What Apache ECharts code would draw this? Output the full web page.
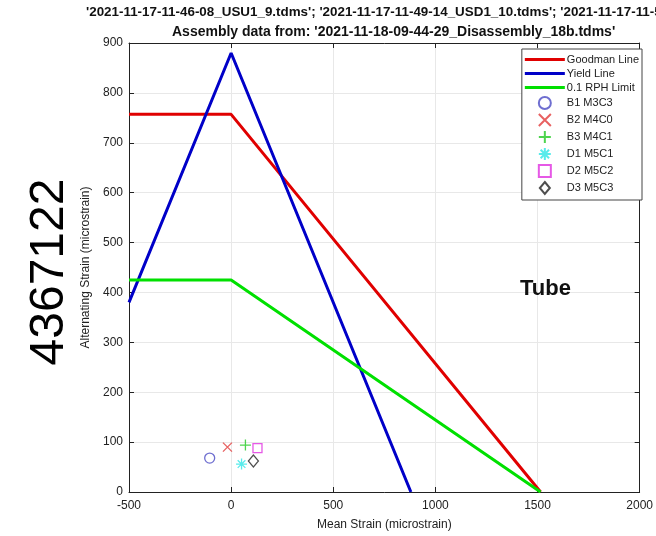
<!DOCTYPE html>
<html><head><meta charset="utf-8">
<script src="https://cdn.jsdelivr.net/npm/echarts@6/dist/echarts.min.js"></script>
<style>html,body{margin:0;padding:0;background:#fff}#c{width:656px;height:536px}</style>
</head><body><div id="c"></div>
<script>
const titleLine1 = "'2021-11-17-11-46-08_USU1_9.tdms'; '2021-11-17-11-49-14_USD1_10.tdms'; '2021-11-17-11-52-20_USU1_11.tdms'";
const titleLine2 = "Assembly data from: '2021-11-18-09-44-29_Disassembly_18b.tdms'";
const xTicks = [-500, 0, 500, 1000, 1500, 2000];
const yTicks = [0, 100, 200, 300, 400, 500, 600, 700, 800, 900];
const goodmanX = [-500, 0, 1515];
const goodmanY = [757, 757, 0];
const yieldX = [-500, 0, 880];
const yieldY = [380, 880, 0];
const rphX = [-500, 0, 1515];
const rphY = [425, 425, 0];
const pointNames = ['B1 M3C3', 'B2 M4C0', 'B3 M4C1', 'D1 M5C1', 'D2 M5C2', 'D3 M5C3'];
const pointX = [-105, -18, 70, 51, 129, 109];
const pointY = [68, 90, 94, 56, 88, 62];

const zip = (xs, ys) => xs.map((x, i) => [x, ys[i]]);
const symbols = [
  'circle',
  'path://M0,0L10,10M10,0L0,10',
  'path://M5,0L5,10M0,5L10,5',
  'path://M5,0L5,10M0,5L10,5M1.5,1.5L8.5,8.5M8.5,1.5L1.5,8.5',
  'path://M0,0L10,0L10,10L0,10Z',
  'path://M5,0L10,6L5,12L0,6Z'
];
const pColors = ['#4a4ac4', '#e23a3a', '#22c922', '#2ee6e6', '#e030e0', '#222222'];
const pSizes = [10, 9, 11, 11, 9, [10, 12]];
const lineColors = ['#e00000', '#0000c8', '#00e000'];
const ff = 'Liberation Sans, Arial, sans-serif';

const series = [
  {name: 'Goodman Line', type: 'line', data: zip(goodmanX, goodmanY), symbol: 'none', lineStyle: {color: lineColors[0], width: 3}, itemStyle: {color: lineColors[0]}},
  {name: 'Yield Line', type: 'line', data: zip(yieldX, yieldY), symbol: 'none', lineStyle: {color: lineColors[1], width: 3}, itemStyle: {color: lineColors[1]}},
  {name: '0.1 RPH Limit', type: 'line', data: zip(rphX, rphY), symbol: 'none', lineStyle: {color: lineColors[2], width: 3}, itemStyle: {color: lineColors[2]}}
];
pointNames.forEach((n, i) => {
  series.push({
    name: n, type: 'scatter', data: [[pointX[i], pointY[i]]],
    symbol: symbols[i], symbolSize: pSizes[i],
    itemStyle: {color: 'rgba(0,0,0,0)', borderColor: pColors[i], borderWidth: 1.3}
  });
});

const legendData = [];
for (let i = 0; i < 3; i++) {
  legendData.push({name: series[i].name, icon: 'path://M0,0L40,0L40,3L0,3Z', itemStyle: {color: lineColors[i], borderWidth: 0}});
}
pointNames.forEach((n, i) => {
  legendData.push({name: n, icon: symbols[i]});
});

const chart = echarts.init(document.getElementById('c'));
chart.setOption({
  animation: false,
  backgroundColor: '#fff',
  grid: {left: 129, right: 13, top: 43, bottom: 40},
  xAxis: [{
    type: 'value', min: xTicks[0], max: xTicks[xTicks.length - 1], interval: 500,
    name: 'Mean Strain (microstrain)', nameLocation: 'middle', nameGap: 27,
    nameTextStyle: {color: '#222', fontSize: 12, fontFamily: ff},
    axisLine: {onZero: false, lineStyle: {color: '#222', width: 1}},
    axisTick: {inside: true, length: 5, lineStyle: {color: '#222'}},
    axisLabel: {color: '#222', fontSize: 12, fontFamily: ff, margin: 8, formatter: v => String(v)},
    splitLine: {show: true, lineStyle: {color: '#e8e8e8', width: 1}}
  }, {
    type: 'value', position: 'top', min: xTicks[0], max: xTicks[xTicks.length - 1], interval: 500,
    axisLine: {show: true, onZero: false, lineStyle: {color: '#222', width: 1}},
    axisTick: {inside: true, length: 5, lineStyle: {color: '#222'}},
    axisLabel: {show: false}, splitLine: {show: false}
  }],
  yAxis: [{
    type: 'value', min: yTicks[0], max: yTicks[yTicks.length - 1], interval: 100,
    name: 'Alternating Strain (microstrain)', nameLocation: 'middle', nameGap: 30,
    nameTextStyle: {color: '#222', fontSize: 12, fontFamily: ff},
    axisLine: {show: true, onZero: false, lineStyle: {color: '#222', width: 1}},
    axisTick: {inside: true, length: 5, lineStyle: {color: '#222'}},
    axisLabel: {color: '#222', fontSize: 12, fontFamily: ff, margin: 6},
    splitLine: {show: true, lineStyle: {color: '#e8e8e8', width: 1}}
  }, {
    type: 'value', position: 'right', min: yTicks[0], max: yTicks[yTicks.length - 1], interval: 100,
    axisLine: {show: true, onZero: false, lineStyle: {color: '#222', width: 1}},
    axisTick: {inside: true, length: 5, lineStyle: {color: '#222'}},
    axisLabel: {show: false}, splitLine: {show: false}
  }],
  legend: {
    orient: 'vertical', right: 14, top: 49,
    backgroundColor: '#fff', borderColor: '#444', borderWidth: 1,
    padding: [5, 3, 5, 3], itemGap: 3, itemWidth: 40, itemHeight: 12,
    symbolKeepAspect: true,
    textStyle: {fontSize: 11, fontFamily: ff, color: '#222', padding: [0, 0, 0, -3]},
    data: legendData
  },
  graphic: [
    {type: 'text', left: 86, top: 6, style: {text: titleLine1, font: 'bold 13.4px "Liberation Sans", Arial', fill: '#111'}},
    {type: 'text', left: 172, top: 25, style: {text: titleLine2, font: 'bold 14px "Liberation Sans", Arial', fill: '#111'}},
    {type: 'text', left: 520, top: 278, z: 100, style: {text: 'Tube', font: 'bold 22px "Liberation Sans", Arial', fill: '#111'}},
    {type: 'text', x: 50, y: 272, rotation: Math.PI / 2, style: {text: '4367122', font: '48px "Liberation Sans", Arial', fill: '#000', align: 'center', verticalAlign: 'middle'}}
  ],
  series: series
});
</script></body></html>
